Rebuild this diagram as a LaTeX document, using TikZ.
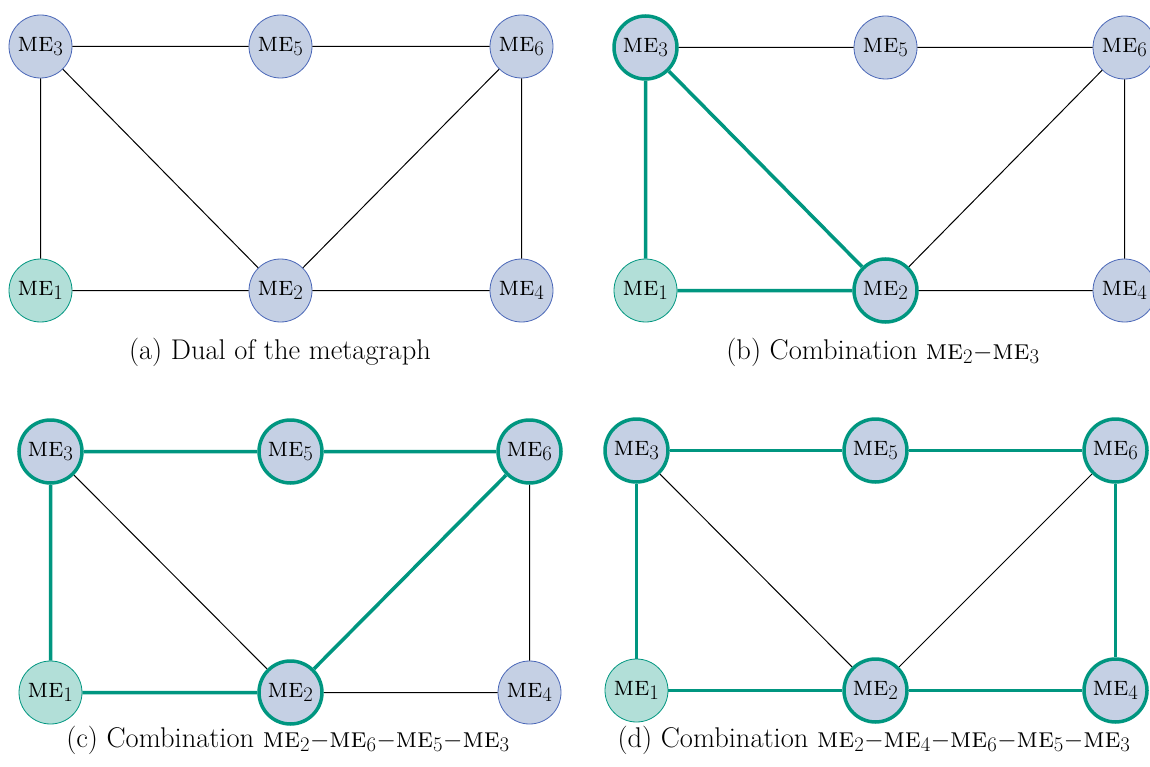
\documentclass[tikz,border=0pt]{standalone}
\usepackage{fontspec}
\begin{document}
\definecolor{nodefill}{RGB}{197,208,228}
\definecolor{nodeline}{RGB}{74,103,184}
\definecolor{startfill}{RGB}{178,223,216}
\definecolor{hlteal}{RGB}{0,150,128}
\tikzset{
  me/.style={circle, minimum size=63pt, inner sep=0pt, fill=nodefill,
    draw=nodeline, line width=0.8pt, font=\fontsize{27.5}{31}\selectfont},
  start/.style={me, fill=startfill, draw=hlteal},
  chosen/.style={me, draw=hlteal, line width=3.5pt},
  link/.style={draw=black, line width=1pt},
  hl/.style={draw=hlteal, line width=3.5pt},
  captext/.style={font=\fontsize{28.5}{33}\selectfont, anchor=center},
}
\newcommand{\ME}[1]{\textsc{me}$_{#1}$}
\begin{tikzpicture}[x=1pt, y=-1pt]
\useasboundingbox (0,0) rectangle (1150,767);
\clip (0,0) rectangle (1150,767);

% (a) the dual graph
\node[me]    (a3) at (40.5,46.5)  {\ME3};
\node[me]    (a5) at (280.5,46.5) {\ME5};
\node[me]    (a6) at (521.5,46.5) {\ME6};
\node[start] (a1) at (40.5,290.5)  {\ME1};
\node[me]    (a2) at (280.5,290.5) {\ME2};
\node[me]    (a4) at (521.5,290.5) {\ME4};
\path[link] (a3) -- (a5) (a5) -- (a6) (a3) -- (a1) (a3) -- (a2)
            (a6) -- (a2) (a6) -- (a4) (a1) -- (a2) (a2) -- (a4);
\node[captext] (capa) at (280,352) {(a) Dual of the metagraph};

% (b) combination ME2-ME3
\node[chosen] (b3) at (645.5,47.5)  {\ME3};
\node[me]     (b5) at (885.5,47.5)  {\ME5};
\node[me]     (b6) at (1124.5,47.5) {\ME6};
\node[start]  (b1) at (645.5,290.5)  {\ME1};
\node[chosen] (b2) at (885.5,290.5)  {\ME2};
\node[me]     (b4) at (1124.5,290.5) {\ME4};
\path[link] (b3) -- (b5) (b5) -- (b6) (b6) -- (b2) (b6) -- (b4) (b2) -- (b4);
\path[hl] (b3) -- (b1) (b3) -- (b2) (b1) -- (b2);
\node[captext] (capb) at (883,352) {(b) Combination \ME2{$-$}\ME3};

% (c) combination ME2-ME6-ME5-ME3
\node[chosen] (c3) at (50.5,451.5)  {\ME3};
\node[chosen] (c5) at (290.5,451.5) {\ME5};
\node[chosen] (c6) at (529.5,451.5) {\ME6};
\node[start]  (c1) at (50.5,692.5)  {\ME1};
\node[chosen] (c2) at (290.5,692.5) {\ME2};
\node[me]     (c4) at (529.5,692.5) {\ME4};
\path[link] (c3) -- (c2) (c6) -- (c4) (c2) -- (c4);
\path[hl] (c3) -- (c5) (c5) -- (c6) (c3) -- (c1) (c6) -- (c2) (c1) -- (c2);
\node[captext] (capc) at (288,740) {(c) Combination \ME2{$-$}\ME6{$-$}\ME5{$-$}\ME3};

% (d) combination ME2-ME4-ME6-ME5-ME3
\node[chosen] (d3) at (636.5,450.5)  {\ME3};
\node[chosen] (d5) at (875.5,450.5)  {\ME5};
\node[chosen] (d6) at (1115.5,450.5) {\ME6};
\node[start]  (d1) at (636.5,690.5)  {\ME1};
\node[chosen] (d2) at (875.5,690.5)  {\ME2};
\node[chosen] (d4) at (1115.5,690.5) {\ME4};
\path[link] (d3) -- (d2) (d6) -- (d2);
\path[hl] (d3) -- (d5) (d5) -- (d6) (d3) -- (d1) (d6) -- (d4) (d1) -- (d2) (d2) -- (d4);
\node[captext] (capd) at (874,740) {(d) Combination \ME2{$-$}\ME4{$-$}\ME6{$-$}\ME5{$-$}\ME3};
\end{tikzpicture}
\end{document}
